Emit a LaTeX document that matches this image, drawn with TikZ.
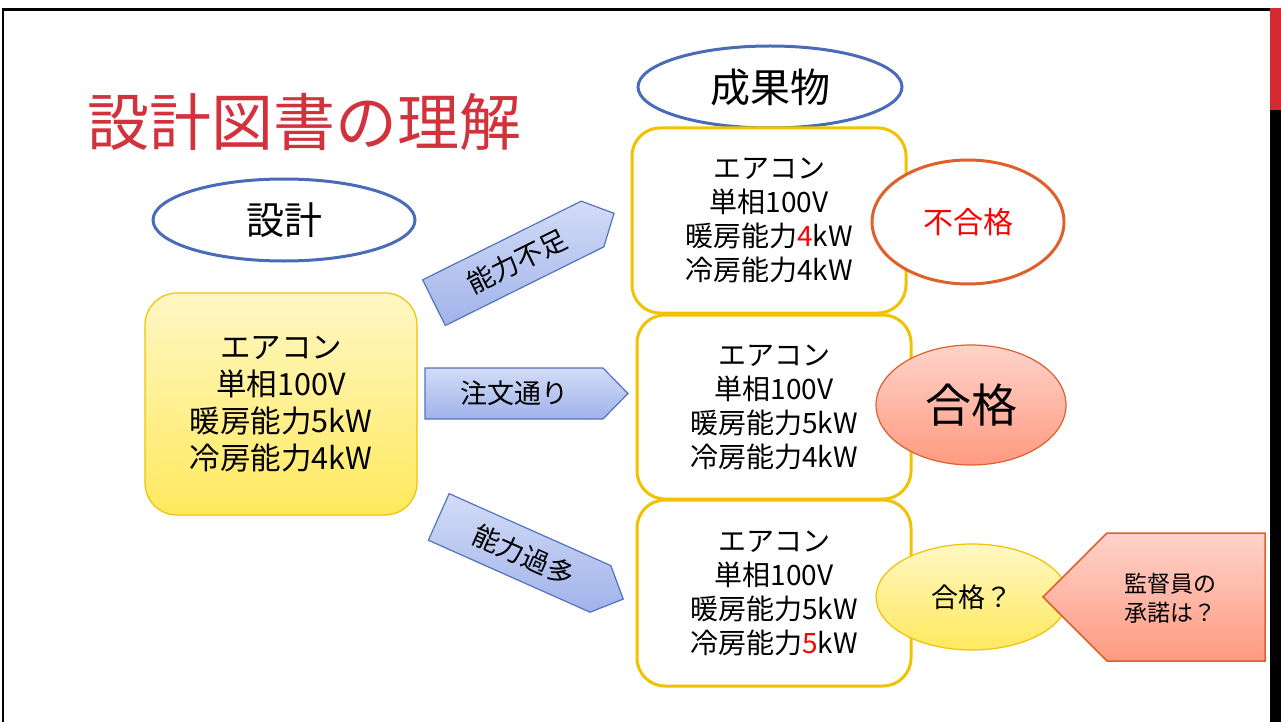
\documentclass[tikz,border=0pt]{standalone}
\usepackage{fontspec}
\setmainfont{Noto Sans CJK JP}
\usetikzlibrary{shapes.geometric}
\definecolor{titlered}{HTML}{D1323C}
\definecolor{barred}{HTML}{D42A32}
\definecolor{eblue}{HTML}{4A6CB8}
\definecolor{gold}{HTML}{F2C200}
\definecolor{orng}{HTML}{E0602C}
\definecolor{abord}{HTML}{5572BE}
\definecolor{atop}{HTML}{D3DCF7}
\definecolor{abot}{HTML}{A0B3EA}
\definecolor{ytop}{HTML}{FFF7C4}
\definecolor{ybot}{HTML}{FFE95E}
\definecolor{ptop}{HTML}{FFD3CB}
\definecolor{pbot}{HTML}{FF9A80}
\tikzset{
  fs/.style n args={2}{font=\fontsize{#1}{#2}\selectfont},
  blueell/.style={ellipse, draw=eblue, line width=3, fill=white, inner sep=0},
  rbox/.style={draw=gold, line width=3, fill=white, rounded corners=28, align=center, inner sep=0},
  arrowbox/.style={draw=abord, line width=1.2, top color=atop, bottom color=abot},
  arrowtxt/.style={fs={27}{30}, transform shape, inner sep=0},
}
\begin{document}
\begin{tikzpicture}[x=1pt,y=-1pt]
\useasboundingbox (0,0) rectangle (1281,722);
\fill[white] (0,0) rectangle (1281,722);
% frame
\draw[line width=2.5] (3,722) -- (3,9.5) -- (1270,9.5);
\fill[barred] (1270,8) rectangle (1281,110);
\fill[black] (1270,110) rectangle (1281,722);

% title
\node[fs={62}{70}, text=titlered, anchor=west, inner sep=0] (title) at (87,122) {設計図書の理解};

% headers
\node[blueell, minimum width=262, minimum height=82, fs={38}{44}] (design) at (284,220) {設計};
\node[blueell, minimum width=264, minimum height=82, fs={40}{46}] (product) at (770,87) {成果物};

% left source box
\node[draw=gold, line width=1.2, top color=ytop, bottom color=ybot, rounded corners=32,
      minimum width=272, minimum height=222, align=center, inner sep=0, fs={30.5}{37}] (src) at (281,404)
  {エアコン\\単相100V\\暖房能力5kW\\冷房能力4kW};

% right boxes
\node[rbox, minimum width=274, minimum height=185, fs={28}{34}] (box1) at (769,220.5)
  {エアコン\\単相100V\\暖房能力{\color{red}4}kW\\冷房能力4kW};
\node[rbox, minimum width=274, minimum height=184, fs={28}{34}] (box2) at (774,407)
  {エアコン\\単相100V\\暖房能力5kW\\冷房能力4kW};
\node[rbox, minimum width=274, minimum height=186, fs={28}{34}] (box3) at (774,593)
  {エアコン\\単相100V\\暖房能力5kW\\冷房能力{\color{red}5}kW};

% verdicts
\node[ellipse, draw=orng, line width=3, fill=white, minimum width=192, minimum height=124, inner sep=0,
      fs={30}{34}, text=red] (ng) at (968,222) {不合格};
\node[ellipse, draw=orng, line width=1.2, top color=ptop, bottom color=pbot, minimum width=190, minimum height=120,
      inner sep=0, fs={46}{50}] (ok) at (971,405) {合格};
\node[ellipse, draw=gold, line width=1.2, top color=ytop, bottom color=ybot, minimum width=192, minimum height=106,
      inner sep=0, fs={27}{32}] (okq) at (972,597) {合格？};

% callout
\shade[draw=orng, line width=1.5, top color=ptop, bottom color=pbot]
  (1043,597) -- (1107,533) -- (1265,533) -- (1265,661) -- (1107,661) -- cycle;
\node[fs={23}{29}, align=center, inner sep=0] (ask) at (1170,598) {監督員の\\承諾は？};

% arrows
\begin{scope}[shift={(526.5,393.5)}]
  \shade[arrowbox] (-101.5,-25.5) -- (76.5,-25.5) -- (101.5,0) -- (76.5,25.5) -- (-101.5,25.5) -- cycle;
  \node[arrowtxt] (a2) at (-12,0) {注文通り};
\end{scope}
\begin{scope}[shift={(524,258)}, rotate=26.4]
  \shade[arrowbox] (-100.5,-25.5) -- (76.5,-25.5) -- (100.5,0) -- (76.5,25.5) -- (-100.5,25.5) -- cycle;
  \node[arrowtxt] (a1) at (-8,0) {能力不足};
\end{scope}
\begin{scope}[shift={(531,558)}, rotate=-24]
  \shade[arrowbox] (-101,-25.5) -- (76,-25.5) -- (101,0) -- (76,25.5) -- (-101,25.5) -- cycle;
  \node[arrowtxt] (a3) at (-8,0) {能力過多};
\end{scope}
\end{tikzpicture}
\end{document}
